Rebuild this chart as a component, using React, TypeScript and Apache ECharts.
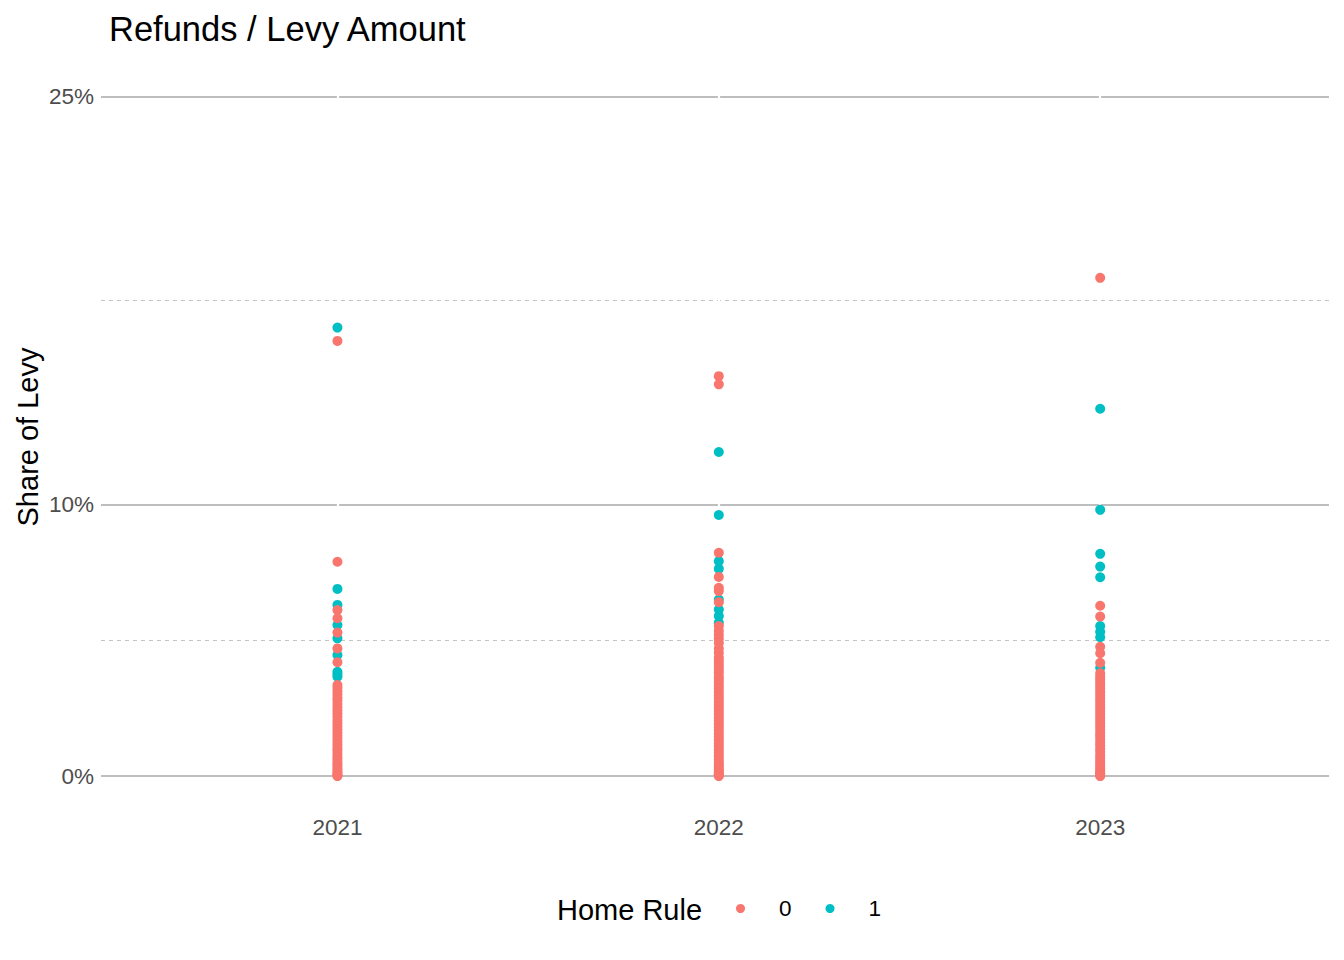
import React, { useEffect, useRef } from "react";
import * as echarts from "echarts";

// ---- data (values in percent of levy) ----
const years = [2021, 2022, 2023];
const yTickValues = [0, 0.1, 0.25];
const yMajorGrid = [0, 0.1, 0.25];
const yMinorGrid = [0.05, 0.175];

const homeRule0_2021 = [
  16.02, 7.89, 6.11, 5.81, 5.28, 4.7, 4.19, 3.35, 3.24, 3.12, 3.01, 2.88, 2.79, 2.65, 2.52,
  2.41, 2.3, 2.18, 2.05, 1.94, 1.83, 1.71, 1.6, 1.48, 1.37, 1.25, 1.14, 1.02, 0.93, 0.81,
  0.7, 0.61, 0.5, 0.42, 0.33, 0.25, 0.18, 0.11, 0.06, 0.02, 0,
];
const homeRule1_2021 = [16.51, 6.89, 6.3, 5.56, 5.07, 4.46, 3.84, 3.75, 3.66];

const homeRule0_2022 = [
  14.72, 14.42, 8.22, 7.33, 6.93, 6.81, 6.4, 5.52, 5.35, 5.2, 5.05, 4.9, 4.7, 4.54, 4.36,
  4.25, 4.13, 4.02, 3.9, 3.79, 3.66, 3.55, 3.43, 3.31, 3.2, 3.08, 2.96, 2.85, 2.73, 2.61,
  2.5, 2.38, 2.26, 2.14, 2.03, 1.91, 1.8, 1.68, 1.56, 1.45, 1.33, 1.21, 1.1, 0.98, 0.87,
  0.75, 0.64, 0.53, 0.43, 0.34, 0.26, 0.19, 0.12, 0.07, 0.03, 0,
];
const homeRule1_2022 = [11.93, 9.61, 7.91, 7.63, 6.5, 6.13, 5.89, 5.64];

const homeRule0_2023 = [
  18.34, 6.27, 5.87, 4.76, 4.52, 4.17, 3.78, 3.66, 3.55, 3.44, 3.33, 3.21, 3.1, 2.98, 2.86,
  2.75, 2.63, 2.51, 2.4, 2.28, 2.16, 2.05, 1.93, 1.82, 1.7, 1.58, 1.47, 1.35, 1.23, 1.12,
  1.0, 0.89, 0.77, 0.66, 0.55, 0.45, 0.35, 0.27, 0.19, 0.12, 0.07, 0.03, 0,
];
const homeRule1_2023 = [13.52, 9.8, 8.18, 7.71, 7.32, 5.52, 5.31, 5.11, 3.99];

const homeRule0 = [homeRule0_2021, homeRule0_2022, homeRule0_2023];
const homeRule1 = [homeRule1_2021, homeRule1_2022, homeRule1_2023];

const toPoints = (groups: number[][]) =>
  groups.flatMap((vals, i) => vals.map((v) => [years[i], v / 100]));

const FONT = "Liberation Sans, Arial, sans-serif";

export default function App() {
  const ref = useRef<HTMLDivElement>(null);

  useEffect(() => {
    document.body.style.margin = "0";
    if (!ref.current) return;
    const chart = echarts.init(ref.current, undefined, { renderer: "svg" });
    chart.setOption({
      animation: false,
      backgroundColor: "#ffffff",
      textStyle: { fontFamily: FONT },
      title: {
        text: "Refunds / Levy Amount",
        left: 109,
        top: 11,
        padding: 0,
        textStyle: { fontFamily: FONT, fontSize: 34.5, fontWeight: "normal", color: "#000000" },
      },
      grid: { left: 101, right: 15, top: 63, bottom: 150 },
      xAxis: {
        type: "value",
        min: 2020.38,
        max: 2023.6,
        axisLine: { show: false },
        axisTick: { show: false },
        splitLine: { show: false },
        axisLabel: {
          customValues: years,
          formatter: (v: number) => String(v),
          color: "#4d4d4d",
          fontSize: 22.5,
          fontFamily: FONT,
          margin: 6,
        },
      },
      yAxis: {
        type: "value",
        min: -0.0125,
        max: 0.2625,
        axisLine: { show: false },
        axisTick: { show: false },
        splitLine: { show: false },
        axisLabel: {
          customValues: yTickValues,
          formatter: (v: number) => Math.round(v * 100) + "%",
          color: "#4d4d4d",
          fontSize: 22.5,
          fontFamily: FONT,
          margin: 7,
        },
      },
      legend: {
        data: ["0", "1"],
        icon: "circle",
        itemWidth: 9,
        itemHeight: 9,
        left: 736,
        top: 897,
        padding: 0,
        itemGap: 34,
        textStyle: { fontSize: 22.5, color: "#000000", fontFamily: FONT, padding: [0, 0, 0, 29] },
      },
      graphic: [
        {
          type: "text",
          x: 557,
          y: 910,
          style: {
            text: "Home Rule",
            fontSize: 29,
            fontFamily: FONT,
            fill: "#000000",
            align: "left",
            verticalAlign: "middle",
          },
        },
        {
          type: "text",
          x: 28,
          y: 437,
          rotation: Math.PI / 2,
          style: {
            text: "Share of Levy",
            fontSize: 29,
            fontFamily: FONT,
            fill: "#000000",
            align: "center",
            verticalAlign: "middle",
          },
        },
      ],
      series: [
        {
          name: "gridH",
          type: "scatter",
          data: [],
          z: 1,
          silent: true,
          markLine: {
            z: 1,
            silent: true,
            symbol: "none",
            precision: 6,
            label: { show: false },
            animation: false,
            data: [
              ...yMajorGrid.map((v) => ({
                yAxis: v,
                lineStyle: { color: "#bebebe", width: 1.8, type: "solid" },
              })),
              ...yMinorGrid.map((v) => ({
                yAxis: v,
                lineStyle: { color: "#c4c4c4", width: 1, type: [4, 4] },
              })),
            ],
          },
        },
        {
          name: "gridV",
          type: "scatter",
          data: [],
          z: 2,
          silent: true,
          markLine: {
            z: 2,
            silent: true,
            symbol: "none",
            precision: 6,
            label: { show: false },
            animation: false,
            data: years.map((y) => ({
              xAxis: y,
              lineStyle: { color: "#ffffff", width: 2.2, type: "solid" },
            })),
          },
        },
        {
          name: "1",
          type: "scatter",
          z: 3,
          symbol: "circle",
          symbolSize: 10,
          itemStyle: { color: "#00BFC4", opacity: 1 },
          data: toPoints(homeRule1),
        },
        {
          name: "0",
          type: "scatter",
          z: 4,
          symbol: "circle",
          symbolSize: 10,
          itemStyle: { color: "#F8766D", opacity: 1 },
          data: toPoints(homeRule0),
        },
      ],
    });
    return () => chart.dispose();
  }, []);

  return <div ref={ref} style={{ width: 1344, height: 960 }} />;
}
